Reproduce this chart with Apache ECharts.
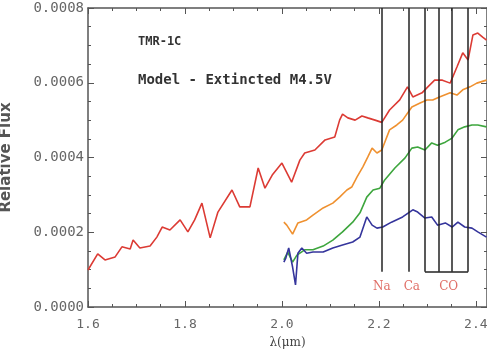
<!DOCTYPE html>
<html>
<head>
<meta charset="utf-8">
<script src="https://cdn.jsdelivr.net/npm/echarts@6/dist/echarts.min.js"></script>
<style>
  html, body { margin: 0; padding: 0; background: #fff; }
  #chart { width: 487px; height: 353px; }
</style>
</head>
<body>
<div id="chart"></div>
<script>
// flux values are in units of 1e-4
const SCALE = 1e-4

const redWave = [1.600, 1.620, 1.635, 1.656, 1.670, 1.687, 1.693, 1.707, 1.728, 1.742, 1.753, 1.769, 1.790, 1.806, 1.820, 1.835, 1.852, 1.868, 1.897, 1.913, 1.934, 1.951, 1.965, 1.980, 2.000, 2.020, 2.037, 2.047, 2.068, 2.089, 2.109, 2.119, 2.125, 2.136, 2.151, 2.165, 2.177, 2.192, 2.206, 2.222, 2.243, 2.259, 2.270, 2.289, 2.301, 2.315, 2.331, 2.347, 2.361, 2.373, 2.384, 2.394, 2.404, 2.414, 2.422]
const redFlux = [0.99, 1.42, 1.26, 1.34, 1.61, 1.55, 1.79, 1.58, 1.63, 1.87, 2.14, 2.06, 2.33, 2.01, 2.33, 2.78, 1.85, 2.54, 3.13, 2.68, 2.68, 3.72, 3.18, 3.53, 3.85, 3.34, 3.93, 4.12, 4.20, 4.47, 4.55, 5.00, 5.16, 5.06, 5.00, 5.11, 5.06, 5.00, 4.94, 5.27, 5.54, 5.89, 5.62, 5.73, 5.89, 6.07, 6.07, 5.99, 6.42, 6.80, 6.61, 7.28, 7.33, 7.22, 7.14]

const orangeWave = [2.004, 2.010, 2.022, 2.033, 2.051, 2.064, 2.085, 2.105, 2.119, 2.134, 2.144, 2.155, 2.167, 2.177, 2.186, 2.196, 2.206, 2.222, 2.237, 2.249, 2.268, 2.285, 2.299, 2.311, 2.325, 2.347, 2.361, 2.373, 2.388, 2.402, 2.422]
const orangeFlux = [2.27, 2.19, 1.95, 2.25, 2.33, 2.46, 2.65, 2.78, 2.94, 3.13, 3.21, 3.48, 3.75, 4.01, 4.25, 4.12, 4.20, 4.74, 4.87, 5.00, 5.35, 5.46, 5.54, 5.54, 5.62, 5.73, 5.67, 5.81, 5.89, 5.99, 6.07]

const greenWave = [2.004, 2.012, 2.022, 2.031, 2.047, 2.064, 2.085, 2.105, 2.125, 2.146, 2.161, 2.175, 2.188, 2.202, 2.212, 2.233, 2.254, 2.268, 2.280, 2.295, 2.309, 2.321, 2.337, 2.351, 2.363, 2.377, 2.392, 2.404, 2.422]
const greenFlux = [1.26, 1.47, 1.20, 1.39, 1.53, 1.53, 1.63, 1.79, 2.01, 2.27, 2.52, 2.94, 3.13, 3.18, 3.40, 3.72, 3.99, 4.25, 4.28, 4.20, 4.39, 4.33, 4.41, 4.52, 4.74, 4.82, 4.87, 4.87, 4.82]

const blueWave = [2.004, 2.008, 2.014, 2.022, 2.028, 2.033, 2.041, 2.051, 2.064, 2.085, 2.105, 2.125, 2.146, 2.161, 2.175, 2.186, 2.196, 2.208, 2.226, 2.249, 2.270, 2.280, 2.295, 2.309, 2.321, 2.337, 2.351, 2.363, 2.377, 2.392, 2.404, 2.422]
const blueFlux = [1.20, 1.31, 1.58, 1.07, 0.59, 1.44, 1.58, 1.44, 1.47, 1.47, 1.58, 1.66, 1.74, 1.87, 2.41, 2.19, 2.11, 2.14, 2.27, 2.41, 2.60, 2.54, 2.38, 2.41, 2.19, 2.25, 2.14, 2.27, 2.14, 2.11, 2.01, 1.87]

// spectral features (Na, Ca lines and the CO band heads)
const lineWave = [2.206, 2.262]
const lineNames = ['Na', 'Ca']
const coWave = [2.295, 2.324, 2.351, 2.384]
const featureBottom = 0.94
const featureTop = 8
const labelLevel = 0.53
const labelWave = [2.206, 2.268, 2.344]
const labelNames = ['Na', 'Ca', 'CO']

function pairs(xs, ys) {
  return xs.map((x, i) => [x, ys[i] * SCALE])
}

const chart = echarts.init(document.getElementById('chart'))

const featureLines = []
lineWave.concat(coWave).forEach(w => {
  featureLines.push([{ coord: [w, featureBottom * SCALE] }, { coord: [w, featureTop * SCALE] }])
})
featureLines.push([{ coord: [coWave[0], featureBottom * SCALE] }, { coord: [coWave[coWave.length - 1], featureBottom * SCALE] }])

const labelData = labelWave.map((w, i) => ({ value: [w, labelLevel * SCALE], name: labelNames[i] }))

function spec(name, xs, ys, color) {
  return {
    name: name,
    type: 'line',
    data: pairs(xs, ys),
    symbol: 'none',
    smooth: false,
    lineStyle: { color: color, width: 1.6 },
    z: 3
  }
}

const axisColor = '#555'
const tickFont = { color: '#666', fontSize: 14, fontFamily: 'DejaVu Sans Mono' }
const xMin = 1.6
const xMax = 2.423

chart.setOption({
  animation: false,
  grid: { left: 88, top: 8, right: 0, bottom: 46, outerBoundsMode: 'none' },
  xAxis: [{
    type: 'value',
    min: xMin,
    max: xMax,
    interval: 0.2,
    name: 'λ(μm)',
    nameLocation: 'middle',
    nameGap: 30,
    nameTextStyle: { color: '#444', fontSize: 12, fontFamily: 'DejaVu Serif' },
    axisLine: { lineStyle: { color: axisColor, width: 1.5 } },
    axisTick: { inside: true, length: 6, lineStyle: { color: axisColor } },
    minorTick: { show: true, splitNumber: 4, length: 3, lineStyle: { color: axisColor } },
    axisLabel: Object.assign({}, tickFont, { fontSize: 13, margin: 11, formatter: v => v.toFixed(1), showMaxLabel: false }),
    splitLine: { show: false }
  }, {
    type: 'value',
    position: 'top',
    min: xMin,
    max: xMax,
    interval: 0.2,
    axisLine: { onZero: false, lineStyle: { color: axisColor, width: 1.5 } },
    axisTick: { inside: true, length: 6, lineStyle: { color: axisColor } },
    minorTick: { show: true, splitNumber: 4, length: 3, lineStyle: { color: axisColor } },
    axisLabel: { show: false },
    splitLine: { show: false }
  }],
  yAxis: [{
    type: 'value',
    min: 0,
    max: 0.0008,
    interval: 0.0002,
    name: 'Relative Flux',
    nameLocation: 'middle',
    nameGap: 74,
    nameTextStyle: { color: '#555', fontSize: 15, fontWeight: 'bold', fontFamily: 'DejaVu Sans' },
    axisLine: { show: true, lineStyle: { color: axisColor, width: 1.5 } },
    axisTick: { show: true, inside: true, length: 6, lineStyle: { color: axisColor } },
    minorTick: { show: true, splitNumber: 4, length: 3, lineStyle: { color: axisColor } },
    axisLabel: Object.assign({ margin: 4, formatter: v => v.toFixed(4) }, tickFont),
    splitLine: { show: false }
  }, {
    type: 'value',
    position: 'right',
    min: 0,
    max: 0.0008,
    interval: 0.0002,
    axisLine: { show: true, onZero: false, lineStyle: { color: axisColor, width: 1.5 } },
    axisTick: { show: true, inside: true, length: 6, lineStyle: { color: axisColor } },
    minorTick: { show: true, splitNumber: 4, length: 3, lineStyle: { color: axisColor } },
    axisLabel: { show: false },
    splitLine: { show: false }
  }],
  graphic: [
    { type: 'text', left: 138, top: 36, style: { text: 'TMR-1C', fill: '#333', font: 'bold 12px "DejaVu Sans Mono"' } },
    { type: 'text', left: 138, top: 73, style: { text: 'Model - Extincted M4.5V', fill: '#333', font: 'bold 14px "DejaVu Sans Mono"' } }
  ],
  series: [
    spec('red', redWave, redFlux, '#dc3b34'),
    spec('orange', orangeWave, orangeFlux, '#ef9130'),
    spec('green', greenWave, greenFlux, '#3ea63e'),
    spec('blue', blueWave, blueFlux, '#35359c'),
    {
      name: 'features',
      type: 'line',
      data: [],
      markLine: {
        silent: true,
        symbol: 'none',
        label: { show: false },
        lineStyle: { color: '#222', width: 1.5, type: 'solid' },
        data: featureLines
      },
      z: 4
    },
    {
      name: 'labels',
      type: 'scatter',
      symbolSize: 0,
      data: labelData,
      label: {
        show: true,
        position: 'inside',
        formatter: p => p.name,
        color: '#d84a40',
        fontSize: 12,
        fontFamily: 'DejaVu Serif'
      }
    }
  ]
})
</script>
</body>
</html>
